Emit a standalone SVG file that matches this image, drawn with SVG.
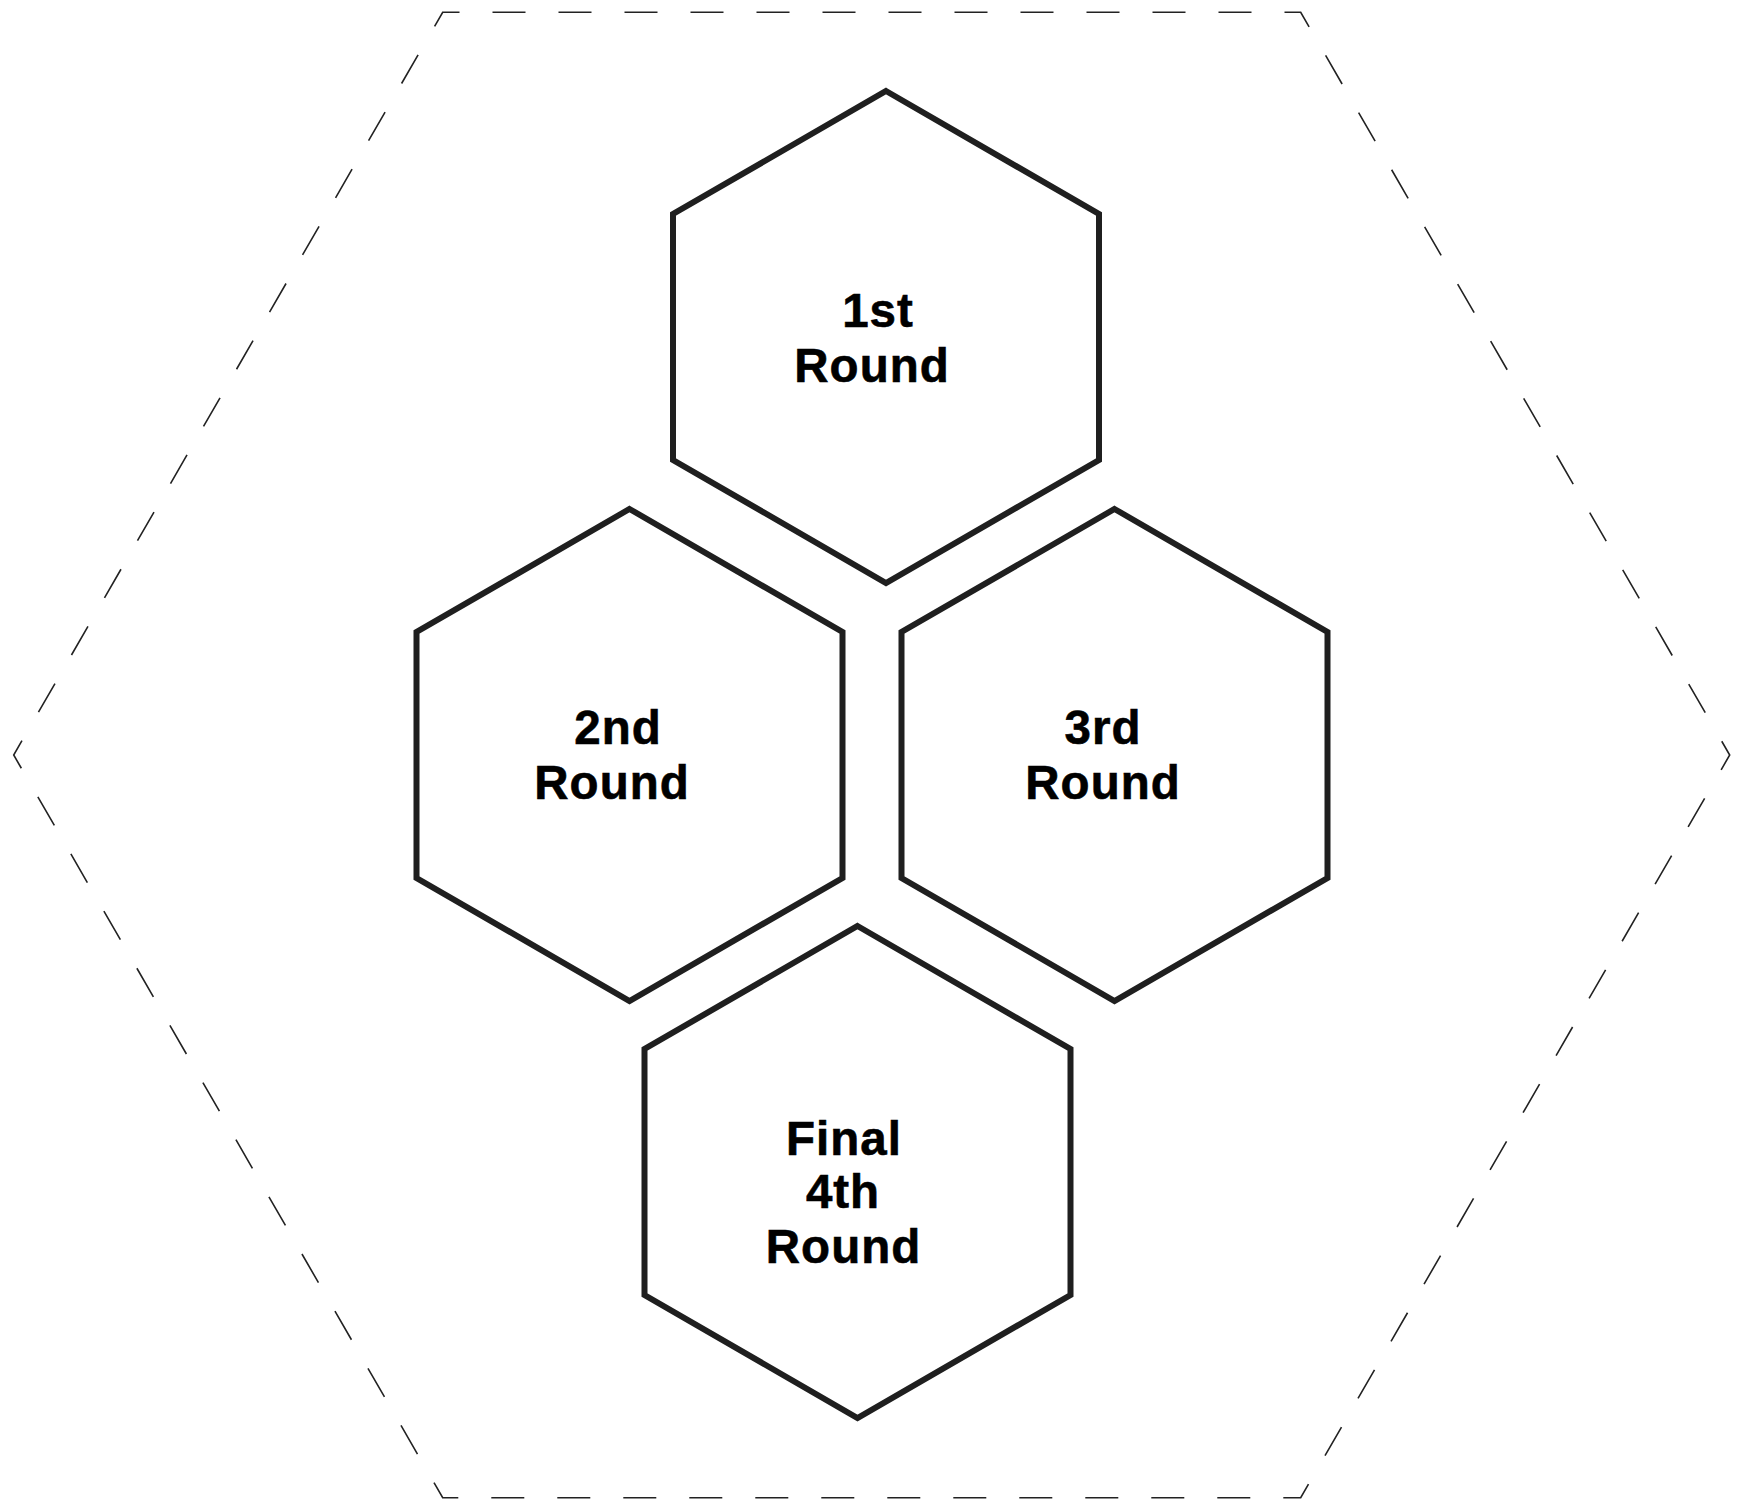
<svg xmlns="http://www.w3.org/2000/svg" width="1737" height="1499" viewBox="0 0 1737 1499">
<style>
.hex{fill:#ffffff;stroke:#1f1f1f;stroke-width:6;stroke-linejoin:miter}
.outer{fill:none;stroke:#222222;stroke-width:1.6;stroke-dasharray:33 33;stroke-dashoffset:16.5}
.lbl{font-family:"Liberation Sans",Arial,sans-serif;font-weight:bold;font-size:47.5px;letter-spacing:1px;fill:#000000;stroke:#000000;stroke-width:0.6;text-anchor:middle}
</style>
<rect x="0" y="0" width="1737" height="1499" fill="#ffffff"/>
<g id="outer-frame">
<path class="outer" d="M13.7,755 L442.7,12.3 L1300.7,12.3 L1729.7,755 L1300.7,1497.7 L442.7,1497.7 Z"/>
</g>
<g id="connectors"></g>
<g id="round1">
<polygon class="hex" points="886,91 1099,214 1099,460 886,583 673,460 673,214"/>
<text class="lbl" x="878" y="327">1st</text>
<text class="lbl" x="872" y="382">Round</text>
</g>
<g id="round2">
<polygon class="hex" points="629.5,509 842.5,632 842.5,878 629.5,1001 416.5,878 416.5,632"/>
<text class="lbl" x="618" y="744">2nd</text>
<text class="lbl" x="612" y="799">Round</text>
</g>
<g id="round3">
<polygon class="hex" points="1114.5,509 1327.5,632 1327.5,878 1114.5,1001 901.5,878 901.5,632"/>
<text class="lbl" x="1103" y="744">3rd</text>
<text class="lbl" x="1103" y="799">Round</text>
</g>
<g id="round4">
<polygon class="hex" points="857.5,926 1070.5,1049 1070.5,1295 857.5,1418 644.5,1295 644.5,1049"/>
<text class="lbl" x="844" y="1155">Final</text>
<text class="lbl" x="843" y="1208">4th</text>
<text class="lbl" x="843.5" y="1263">Round</text>
</g>
</svg>
